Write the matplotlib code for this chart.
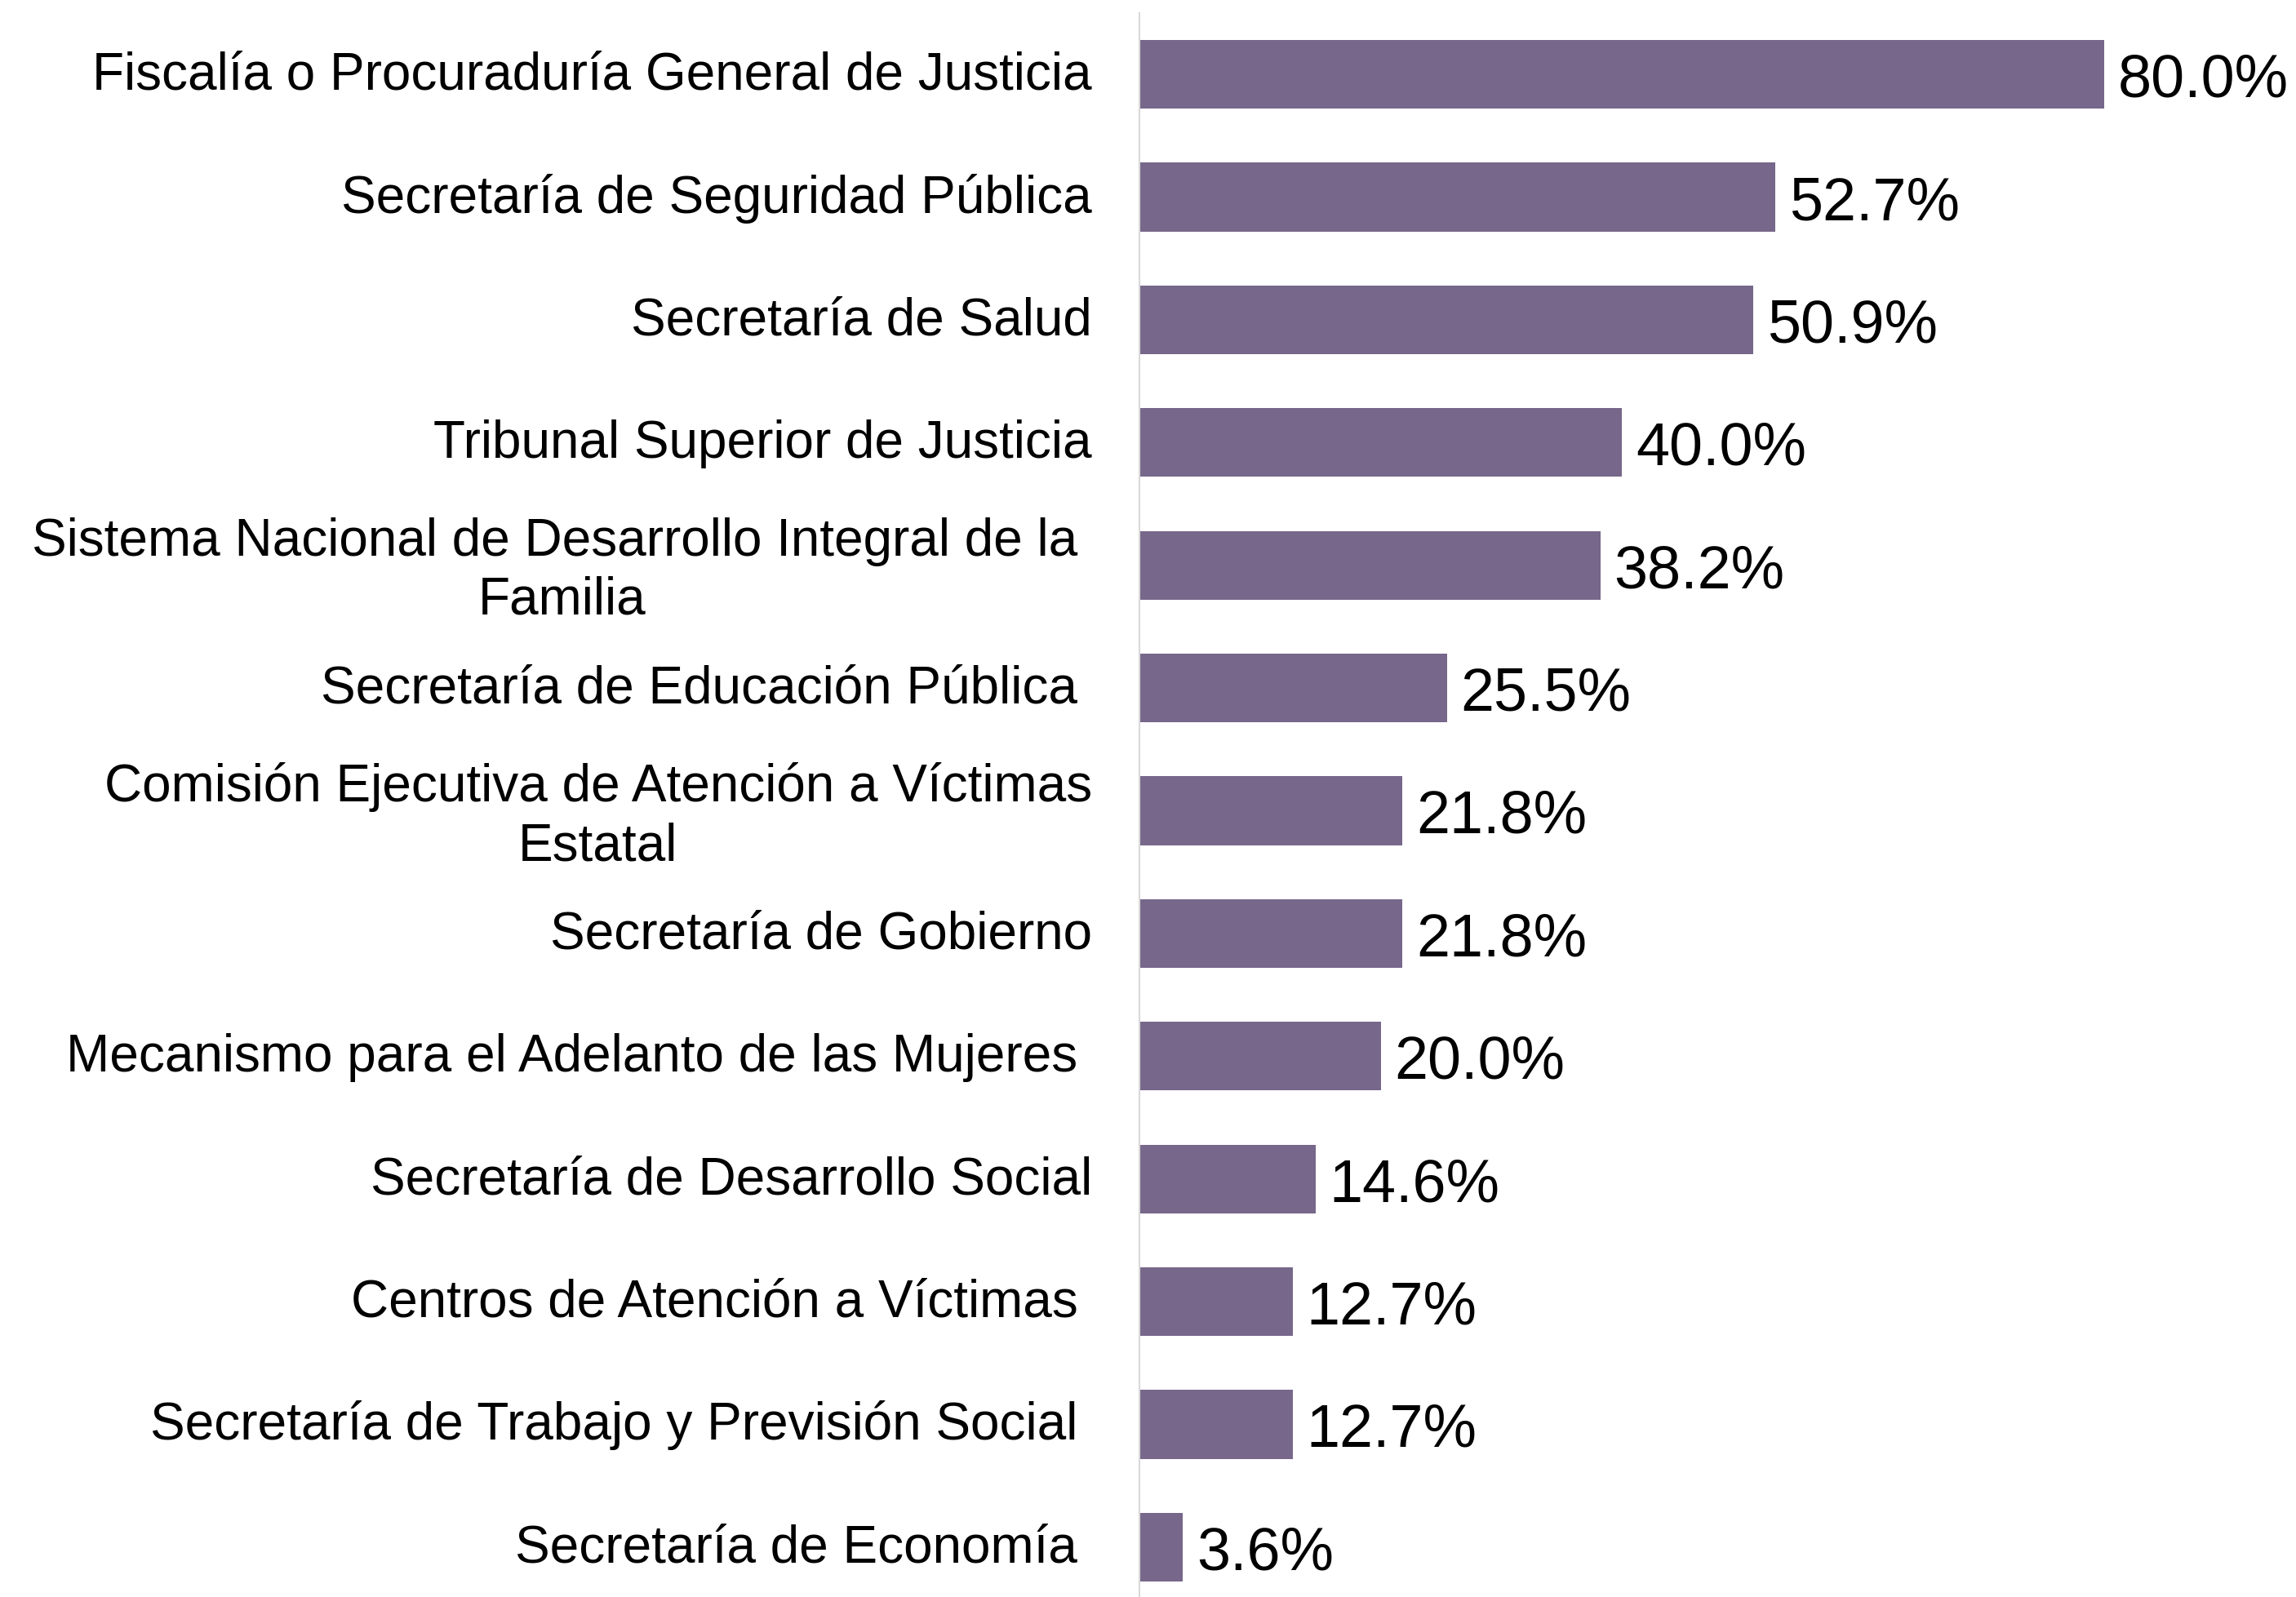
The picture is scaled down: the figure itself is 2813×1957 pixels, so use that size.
import matplotlib.pyplot as plt
import matplotlib.transforms as mtransforms

plt.rcParams['font.family'] = ['Liberation Sans', 'DejaVu Sans']

# datos
instituciones = [
    "Fiscalía o Procuraduría General de Justicia",
    "Secretaría de Seguridad Pública",
    "Secretaría de Salud",
    "Tribunal Superior de Justicia",
    "Sistema Nacional de Desarrollo Integral de la \nFamilia",
    "Secretaría de Educación Pública ",
    "Comisión Ejecutiva de Atención a Víctimas\nEstatal",
    "Secretaría de Gobierno",
    "Mecanismo para el Adelanto de las Mujeres ",
    "Secretaría de Desarrollo Social",
    "Centros de Atención a Víctimas ",
    "Secretaría de Trabajo y Previsión Social ",
    "Secretaría de Economía ",
]
porcentajes = [80.0, 52.7, 50.9, 40.0, 38.2, 25.5, 21.8, 21.8, 20.0, 14.6, 12.7, 12.7, 3.6]

W, H = 2813, 1958
fig = plt.figure(figsize=(W / 100, H / 100), dpi=100)
fig.patch.set_facecolor('white')

# ejes: linea vertical en x=1396 px, 14.78 px por punto porcentual
left = 1396 / W
width = 85 * 14.78 / W
top_px = 17
bot_px = H + 14
ax = fig.add_axes([left, 1 - bot_px / H, width, (bot_px - top_px) / H])

y = list(range(len(instituciones)))
ax.barh(y, porcentajes, height=0.56, color='#77678A')

ax.set_ylim(len(instituciones) - 0.5, -0.5)
ax.set_xlim(0, 85)

for yi, v in zip(y, porcentajes):
    ax.annotate(f"{v:.1f}%", (v, yi), xytext=(12, -5), textcoords='offset points',
                va='center', ha='left', fontsize=53, color='black')

# etiquetas de categoria (un poco por encima del centro de la barra)
ax.set_yticks(y)
ax.set_yticklabels([])
ax.tick_params(axis='y', length=0)
ax.set_xticks([])
trans = ax.get_yaxis_transform() + mtransforms.ScaledTranslation(-58 / 100, 6 / 100, fig.dpi_scale_trans)
for yi, lab in zip(y, instituciones):
    ax.text(0, yi, lab, transform=trans, ha='right', va='center_baseline',
            multialignment='center', linespacing=1.25, fontsize=46, color='black')

for s in ['top', 'right', 'bottom']:
    ax.spines[s].set_visible(False)
ax.spines['left'].set_color('#D9D9D9')
ax.spines['left'].set_linewidth(1.5)

fig.savefig('out.png', dpi=100)
